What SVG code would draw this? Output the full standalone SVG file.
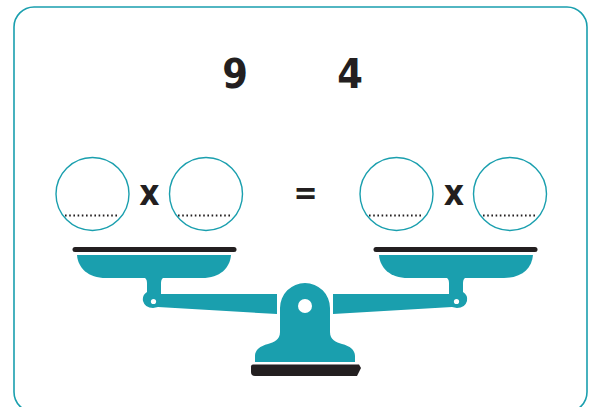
<svg xmlns="http://www.w3.org/2000/svg" width="591" height="407" viewBox="0 0 591 407">
  <style>
    .frame{fill:#fff;stroke:#1a9fae;stroke-width:1.6}
    .slot{fill:#fff;stroke:#1a9fae;stroke-width:1.4}
    .dots{stroke:#231f20;stroke-width:2;stroke-dasharray:1.6 2.6;fill:none}
    .teal{fill:#1a9fae}
    .blk{fill:#231f20}
    .bar{stroke:#231f20;stroke-width:5;stroke-linecap:round;fill:none}
    .hole{fill:#fff}
    .num{font-family:"DejaVu Sans Condensed","DejaVu Sans",sans-serif;font-weight:bold;fill:#231f20;text-anchor:middle}
    .op{font-family:"DejaVu Sans Condensed","DejaVu Sans",sans-serif;font-weight:bold;fill:#231f20;text-anchor:middle;font-size:35px}
  </style>
  <defs>
    <g id="side">
      <path class="bar" d="M75,249.5 H234"/>
      <path class="teal" d="M77,255 H231 C230,268 220,278 202,278 H106 C88,278 78,268 77,255 Z"/>
      <path class="teal" d="M143,277 Q147,278 147,283 L147,292 Q142,295 143,301 Q145,308 153,308 L158,307 L277,314 L277,294 L161,294 L161,283 Q161,278 165,277 Z"/>
      <circle class="hole" cx="153.5" cy="301.5" r="2.6"/>
    </g>
  </defs>
  <rect class="frame" x="14" y="7" width="573" height="405" rx="20"/>
  <g id="numbers">
    <text class="num" x="235" y="88" font-size="41">9</text>
    <text class="num" x="350" y="88" font-size="41">4</text>
  </g>
  <g id="left-product">
    <circle class="slot" cx="92.5" cy="194" r="36.5"/>
    <path class="dots" d="M65,215.5 H118"/>
    <text class="op" x="149.5" y="205">x</text>
    <circle class="slot" cx="206" cy="194" r="36.5"/>
    <path class="dots" d="M178,215.5 H231"/>
  </g>
  <g id="equals">
    <text class="num" x="305.5" y="204" font-size="32">=</text>
  </g>
  <g id="right-product">
    <circle class="slot" cx="396.5" cy="194" r="36.5"/>
    <path class="dots" d="M369,215.5 H422"/>
    <text class="op" x="454" y="205">x</text>
    <circle class="slot" cx="510" cy="194" r="36.5"/>
    <path class="dots" d="M483,215.5 H535"/>
  </g>
  <g id="scale">
    <use href="#side"/>
    <use href="#side" transform="translate(610,0) scale(-1,1)"/>
    <path class="teal" d="M280,335 V308 A25,25 0 0 1 330,308 V332 C330,340 336,342 342,344 C350,346 355,350 355,356 V362 H255 V356 C255,350 260,346 268,344 C274,342 280,340 280,332 Z"/>
    <circle class="hole" cx="305" cy="306" r="7"/>
    <path class="blk" d="M253,364.5 H359 L361,368 L357,376 H255 Q251,376 251,372 V366.5 Q251,364.5 253,364.5 Z"/>
  </g>
</svg>
